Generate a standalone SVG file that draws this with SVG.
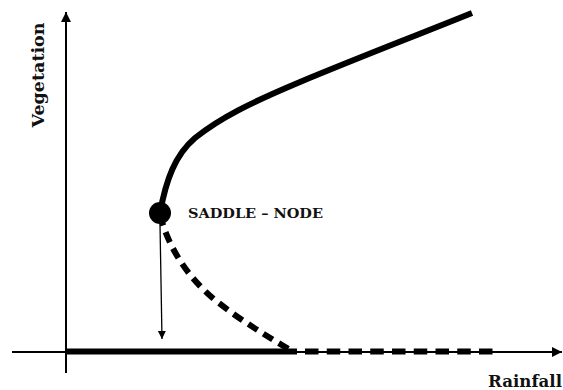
<svg xmlns="http://www.w3.org/2000/svg" width="563" height="390" viewBox="0 0 563 390">
<style>
.lbl{font-family:"DejaVu Serif","Liberation Serif",serif;font-weight:bold;fill:#111}
.ax{stroke:#000;stroke-width:2;fill:none}
.thick{stroke:#000;stroke-width:6;fill:none}
.dash{stroke:#000;stroke-width:6;fill:none;stroke-dasharray:11 7}
</style>
<defs>
<marker id="ah" markerWidth="11" markerHeight="11" refX="10" refY="5" orient="auto" markerUnits="userSpaceOnUse">
<path d="M0,0 L10,5 L0,10 z" fill="#000"/>
</marker>
<marker id="ah2" markerWidth="8" markerHeight="10" refX="8" refY="4" orient="auto" markerUnits="userSpaceOnUse">
<path d="M0,0 L8,4 L0,8 z" fill="#000"/>
</marker>
</defs>
<g id="connectors">
<line class="ax" x1="12" y1="352" x2="562" y2="352" marker-end="url(#ah)"/>
<line class="ax" x1="66" y1="373" x2="66" y2="12" marker-end="url(#ah)"/>
<line class="thick" x1="66" y1="351.5" x2="297" y2="351.5"/>
<line class="dash" x1="305" y1="351.5" x2="493" y2="351.5" style="stroke-dasharray:13.5 8.25;stroke-width:6"/>
<path class="thick" d="M160,213 C166,180 175,155 195,138 C220,118 250,103 300,82 C360,57 410,38 472,13"/>
<path class="dash" d="M160,215 C168,245 185,275 215,300 C240,320 265,335 292,351"/>
<line x1="160" y1="224" x2="162" y2="339" stroke="#000" stroke-width="1.3" marker-end="url(#ah2)"/>
</g>
<g id="saddle-node">
<circle cx="160" cy="213" r="11" fill="#000"/>
<text class="lbl" x="188" y="218" font-size="13" textLength="135" lengthAdjust="spacingAndGlyphs">SADDLE – NODE</text>
</g>
<g id="axis-labels">
<text class="lbl" x="0" y="0" font-size="16" transform="translate(44,75) rotate(-90)" text-anchor="middle" textLength="105" lengthAdjust="spacingAndGlyphs">Vegetation</text>
<text class="lbl" x="488" y="387" font-size="17" textLength="74" lengthAdjust="spacingAndGlyphs">Rainfall</text>
</g>
</svg>
